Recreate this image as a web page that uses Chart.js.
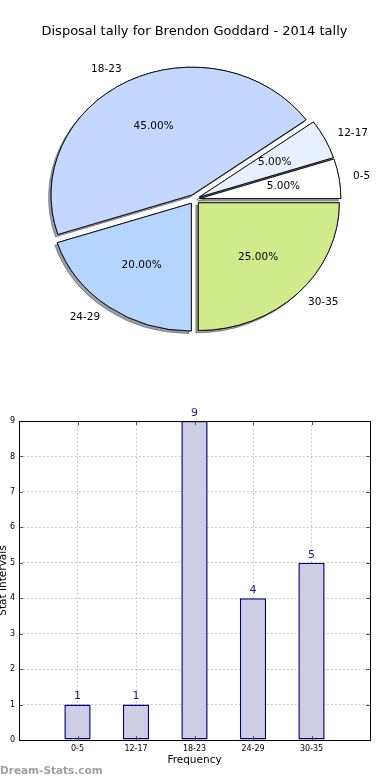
<!DOCTYPE html>
<html>
<head>
<meta charset="utf-8">
<script src="https://cdn.jsdelivr.net/npm/chart.js@4"></script>
<style>
  body { margin: 0; background: #fff; }
  canvas { display: block; }
</style>
</head>
<body>
<canvas id="pieChart" width="390" height="390"></canvas>
<canvas id="barChart" width="390" height="390"></canvas>
<script>
// Disposal tally per interval
const intervals = ['0-5', '12-17', '18-23', '24-29', '30-35'];
const tally = [1, 1, 9, 4, 5];
const sliceColors = ['#ffffff', '#e8f0ff', '#c4d8ff', '#b5d5ff', '#d0ea8c'];

const total = tally.reduce((a, b) => a + b, 0);

// pie is squashed a little and every slice pushed out from the centre
const SY = 0.906;
const EXPLODE = 5.4;

Chart.defaults.font.family = '"DejaVu Sans", sans-serif';
Chart.defaults.color = '#000';

const explodedPie = {
    id: 'explodedPie',
    beforeDatasetsDraw(chart) {
        const ctx = chart.ctx;
        const arcs = chart.getDatasetMeta(0).data;
        // first pass draws the shadows, second the slices
        [true, false].forEach(shadow => {
            arcs.forEach(arc => {
                const mid = (arc.startAngle + arc.endAngle) / 2;
                ctx.save();
                if (shadow) {
                    ctx.shadowColor = 'rgba(20, 25, 35, 0.42)';
                    ctx.shadowOffsetX = -2.5;
                    ctx.shadowOffsetY = 2.5;
                }
                ctx.translate(arc.x, arc.y);
                ctx.scale(1, -SY);
                ctx.translate(-arc.x, -arc.y);
                ctx.translate(Math.cos(mid) * EXPLODE, Math.sin(mid) * EXPLODE);
                arc.draw(ctx);
                ctx.restore();
            });
        });
        return false;
    },
    afterDraw(chart) {
        const ctx = chart.ctx;
        const arcs = chart.getDatasetMeta(0).data;
        ctx.save();
        ctx.font = '10.5px "DejaVu Sans"';
        ctx.fillStyle = '#000';
        ctx.textBaseline = 'middle';
        arcs.forEach((arc, i) => {
            const mid = (arc.startAngle + arc.endAngle) / 2;
            const c = Math.cos(mid), s = Math.sin(mid);
            const r = arc.outerRadius;
            const ex = arc.x + c * EXPLODE;
            const ey = arc.y - SY * s * EXPLODE;
            ctx.textAlign = c < 0 ? 'right' : 'left';
            ctx.fillText(intervals[i], ex + 1.1 * r * c, ey - 1.1 * r * SY * s);
            ctx.textAlign = 'center';
            ctx.fillText((tally[i] / total * 100).toFixed(2) + '%', ex + 0.6 * r * c, ey - 0.6 * r * SY * s);
        });
        ctx.restore();
    }
};

new Chart(document.getElementById('pieChart'), {
    type: 'pie',
    data: {
        labels: intervals,
        datasets: [{
            data: tally,
            backgroundColor: sliceColors,
            borderColor: '#000',
            borderWidth: 0.9,
            rotation: 90
        }]
    },
    options: {
        responsive: false,
        animation: false,
        events: [],
        radius: 141,
        rotation: 90,
        layout: { padding: { left: 0, right: 1, top: 0, bottom: 32 } },
        plugins: {
            legend: { display: false },
            tooltip: { enabled: false },
            title: {
                display: true,
                text: 'Disposal tally for Brendon Goddard - 2014 tally',
                font: { size: 13, weight: 'normal' },
                color: '#000',
                padding: { top: 24, bottom: 1 }
            }
        }
    },
    plugins: [explodedPie]
});

// frame, inner tick marks, value labels and watermark
const barExtras = {
    id: 'barExtras',
    afterDraw(chart) {
        const ctx = chart.ctx;
        const { left, right, top, bottom } = chart.chartArea;
        const x = chart.scales.x, y = chart.scales.y;
        ctx.save();
        ctx.strokeStyle = '#555';
        ctx.lineWidth = 1;
        ctx.beginPath();
        for (let v = 0; v <= 9; v++) {
            const py = Math.round(y.getPixelForValue(v)) + 0.5;
            ctx.moveTo(left, py); ctx.lineTo(left + 4, py);
            ctx.moveTo(right, py); ctx.lineTo(right - 4, py);
        }
        intervals.forEach((c, i) => {
            const px = Math.round(x.getPixelForValue(i)) + 0.5;
            ctx.moveTo(px, bottom); ctx.lineTo(px, bottom - 4);
            ctx.moveTo(px, top); ctx.lineTo(px, top + 4);
        });
        ctx.stroke();

        ctx.strokeStyle = '#000';
        ctx.strokeRect(left + 0.5, top + 0.5, right - left, bottom - top);

        ctx.fillStyle = '#1a1a8c';
        ctx.font = '11px "DejaVu Sans"';
        ctx.textAlign = 'center';
        ctx.textBaseline = 'middle';
        chart.getDatasetMeta(0).data.forEach((bar, i) => {
            ctx.fillText(String(tally[i]), bar.x, bar.y - 8);
        });

        ctx.fillStyle = '#a0a0a0';
        ctx.font = 'bold 10.5px "DejaVu Sans"';
        ctx.textAlign = 'left';
        ctx.fillText('Dream-Stats.com', 0, 381);
        ctx.restore();
    }
};

new Chart(document.getElementById('barChart'), {
    type: 'bar',
    data: {
        datasets: [{
            data: tally.map((v, i) => ({ x: i, y: v })),
            backgroundColor: '#cdcde4',
            borderColor: '#00007a',
            borderWidth: 1.5,
            borderSkipped: false,
            barPercentage: 0.45,
            categoryPercentage: 1
        }]
    },
    options: {
        responsive: false,
        animation: false,
        events: [],
        layout: { padding: { left: 0, right: 20, top: 31, bottom: 0 } },
        plugins: {
            legend: { display: false },
            tooltip: { enabled: false }
        },
        scales: {
            x: {
                type: 'linear',
                min: -1,
                max: 5,
                offset: false,
                z: 1,
                afterFit(scale) { scale.height = 40; },
                ticks: {
                    stepSize: 1,
                    autoSkip: false,
                    maxRotation: 0,
                    padding: 4,
                    font: { size: 8 },
                    color: '#000',
                    callback: v => intervals[v] ?? ''
                },
                grid: { offset: false, drawTicks: false, color: 'rgba(0,0,0,0.25)' },
                border: { display: false, dash: [1.5, 2.5] },
                title: {
                    display: true,
                    text: 'Frequency',
                    font: { size: 10.5 },
                    color: '#000',
                    padding: { top: 0, bottom: 13 }
                }
            },
            y: {
                min: 0,
                max: 9,
                z: 1,
                afterFit(scale) { scale.width = 19; },
                ticks: { stepSize: 1, padding: 4, font: { size: 8 }, color: '#000' },
                grid: { drawTicks: false, color: 'rgba(0,0,0,0.25)' },
                border: { display: false, dash: [1.5, 2.5] },
                title: {
                    display: true,
                    text: 'Stat Intervals',
                    font: { size: 10.5, lineHeight: 0.6 },
                    color: '#000',
                    padding: 0
                }
            }
        }
    },
    plugins: [barExtras]
});
</script>
</body>
</html>
